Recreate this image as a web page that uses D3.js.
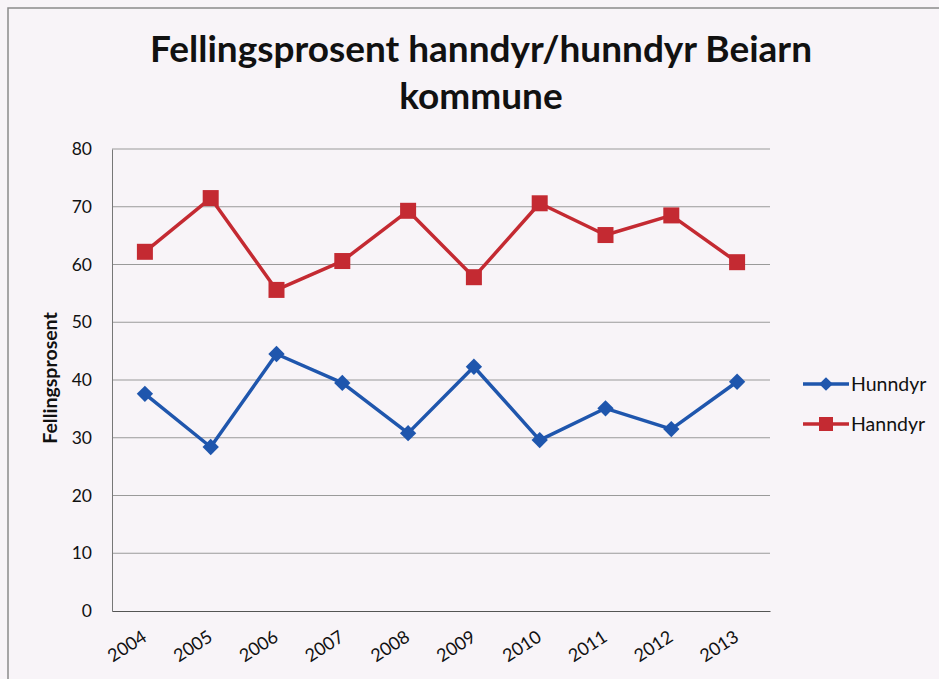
<!DOCTYPE html>
<html><head><meta charset="utf-8">
<script src="https://cdn.jsdelivr.net/npm/d3@7"></script>
<style>
html,body{margin:0;padding:0;background:#f8f4f8;}
svg{display:block;}
</style></head>
<body>
<svg id="chart" width="939" height="679"></svg>
<script>
const years = ["2004","2005","2006","2007","2008","2009","2010","2011","2012","2013"];
const hunndyr = [37.6, 28.4, 44.5, 39.5, 30.8, 42.3, 29.6, 35.1, 31.5, 39.7];
const hanndyr = [62.2, 71.5, 55.6, 60.6, 69.3, 57.8, 70.6, 65.1, 68.5, 60.4];
const yTicks = [0, 10, 20, 30, 40, 50, 60, 70, 80];
const seriesNames = ["Hunndyr", "Hanndyr"];
const titleLines = ["Fellingsprosent hanndyr/hunndyr Beiarn", "kommune"];
const yTitle = "Fellingsprosent";

const svg = d3.select("#chart");
const font = "Lato, 'Open Sans', sans-serif";
const blue = "#1f56ad", red = "#c42a32";

// frame
svg.append("rect").attr("x", 8).attr("y", 8).attr("width", 940).attr("height", 690)
  .attr("fill", "#f8f4f8").attr("stroke", "#8a8a8a").attr("stroke-width", 1.5);

const m = {left: 112, right: 770, top: 149, bottom: 611};
const x = d3.scaleBand().domain(years).range([m.left, m.right]);
const y = d3.scaleLinear().domain([0, 80]).range([m.bottom, m.top]);
const cx = d => x(d) + x.bandwidth() / 2;

// title
const t = svg.append("text").attr("text-anchor", "middle").attr("font-family", font)
  .attr("font-weight", "bold").attr("fill", "#111");
t.append("tspan").attr("x", 481).attr("y", 62).attr("font-size", 31).text(titleLines[0]);
t.append("tspan").attr("x", 481).attr("y", 109).attr("font-size", 31).text(titleLines[1]);
const l1 = t.select("tspan").node();
const w = l1.getComputedTextLength();
const fs = 31 * 662 / w;
t.selectAll("tspan").attr("font-size", fs);

// gridlines
svg.append("g").selectAll("line").data(yTicks.filter(d => d > 0)).join("line")
  .attr("x1", m.left).attr("x2", m.right)
  .attr("y1", d => y(d)).attr("y2", d => y(d))
  .attr("stroke", "#9a9a9a").attr("stroke-width", 1);

// y axis
const yAxis = svg.append("g").attr("transform", `translate(${m.left},0)`)
  .call(d3.axisLeft(y).tickValues(yTicks).tickSize(0).tickPadding(20));
yAxis.select(".domain").attr("stroke", "#777");
yAxis.selectAll("text").attr("font-family", font).attr("font-size", 17.5).attr("fill", "#111");

// x axis
const xAxis = svg.append("g").attr("transform", `translate(0,${m.bottom})`)
  .call(d3.axisBottom(x).tickSize(0).tickPadding(0));
xAxis.select(".domain").attr("stroke", "#555").attr("stroke-width", 1.2);
xAxis.selectAll("text").attr("font-family", font).attr("font-size", 18).attr("fill", "#111")
  .attr("text-anchor", "end").attr("dy", 0)
  .attr("transform", "translate(3,29) rotate(-33)");

// y title
svg.append("text").attr("transform", "translate(50,378) rotate(-90)")
  .attr("text-anchor", "middle").attr("dy", "0.35em")
  .attr("font-family", font).attr("font-weight", "bold").attr("font-size", 19.5).attr("fill", "#111")
  .text(yTitle);

const line = d3.line().x((d, i) => cx(years[i])).y(d => y(d));

// Hanndyr
svg.append("path").datum(hanndyr).attr("d", line).attr("fill", "none")
  .attr("stroke", red).attr("stroke-width", 3.5).attr("stroke-linejoin", "round");
svg.append("g").selectAll("rect").data(hanndyr).join("rect")
  .attr("x", (d, i) => cx(years[i]) - 8).attr("y", d => y(d) - 8)
  .attr("width", 16).attr("height", 16).attr("fill", red);

// Hunndyr
svg.append("path").datum(hunndyr).attr("d", line).attr("fill", "none")
  .attr("stroke", blue).attr("stroke-width", 3.5).attr("stroke-linejoin", "round");
const diamond = d3.symbol().type(d3.symbolDiamond2).size(170);
svg.append("g").selectAll("path").data(hunndyr).join("path")
  .attr("d", diamond)
  .attr("transform", (d, i) => `translate(${cx(years[i])},${y(d)})`)
  .attr("fill", blue);

// legend
const lg = svg.append("g");
const ly = [384, 424];
const cols = [blue, red];
seriesNames.forEach((n, i) => {
  lg.append("line").attr("x1", 803).attr("x2", 849).attr("y1", ly[i]).attr("y2", ly[i])
    .attr("stroke", cols[i]).attr("stroke-width", 3.5);
  if (i === 0) {
    lg.append("path").attr("d", d3.symbol().type(d3.symbolDiamond2).size(120))
      .attr("transform", `translate(826,${ly[i]})`).attr("fill", cols[i]);
  } else {
    lg.append("rect").attr("x", 819).attr("y", ly[i] - 7).attr("width", 14).attr("height", 14).attr("fill", cols[i]);
  }
  lg.append("text").attr("x", 851).attr("y", ly[i]).attr("dy", "0.35em")
    .attr("font-family", font).attr("font-size", 19.5).attr("fill", "#111").text(n);
});
</script>
</body></html>
